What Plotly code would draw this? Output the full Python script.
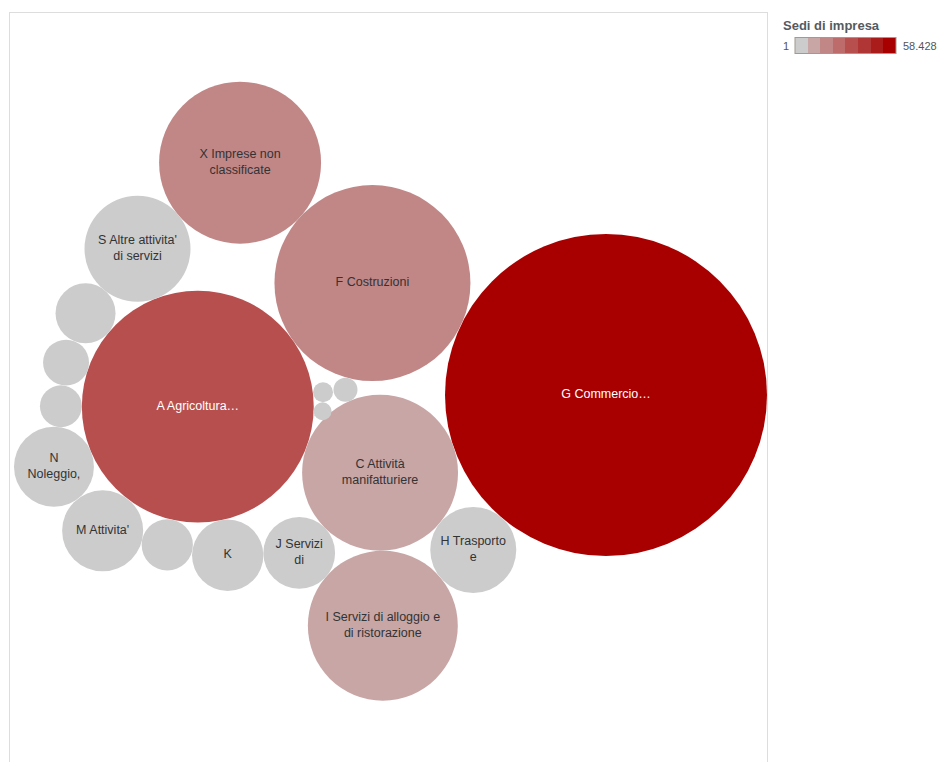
import math
import plotly.graph_objects as go

# ---------------- data ----------------
codes = ["G", "A", "F", "X", "C", "I", "S", "H", "M", "N", "K", "J",
         "L", "Q", "R", "P", "E", "D", "B", "T"]
categories = [
    "G Commercio all'ingrosso e al dettaglio",
    "A Agricoltura, silvicoltura pesca",
    "F Costruzioni",
    "X Imprese non classificate",
    "C Attività manifatturiere",
    "I Servizi di alloggio e di ristorazione",
    "S Altre attivita' di servizi",
    "H Trasporto e magazzinaggio",
    "M Attivita' professionali, scientifiche e tecniche",
    "N Noleggio, agenzie di viaggio, servizi di supporto alle imprese",
    "K Attivita' finanziarie e assicurative",
    "J Servizi di informazione e comunicazione",
    "L Attivita' immobiliari",
    "Q Sanita' e assistenza sociale",
    "R Attivita' artistiche, sportive, di intrattenimento",
    "P Istruzione",
    "E Fornitura di acqua; reti fognarie",
    "D Fornitura di energia elettrica, gas",
    "B Estrazione di minerali",
    "T Attivita' di famiglie e convivenze",
]
bubble_labels = [
    "G Commercio…", "A Agricoltura…", "F Costruzioni",
    "X Imprese non<br>classificate", "C Attività<br>manifatturiere",
    "I Servizi di alloggio e<br>di ristorazione", "S Altre attivita'<br>di servizi",
    "H Trasporto<br>e", "M Attivita'", "N<br>Noleggio,", "K", "J Servizi<br>di",
    "", "", "", "", "", "", "", "",
]
values = [58428, 30300, 21640, 14780, 13700, 12670, 6330, 4170, 3700, 3600,
          2870, 2900, 2030, 1480, 1190, 990, 325, 225, 180, 1]

legend_title = "Sedi di impresa"
legend_min_label = "1"
legend_max_label = "58.428"

# ---------------- styles / layout ----------------
step_colors = ["#cccccc", "#c8a6a6", "#c18787", "#bd6b6b",
               "#b74f4f", "#b03535", "#aa1b1b", "#a80000"]
W, H = 946, 762
ML, MR, MT, MB = 10, 179, 13, 0
MAX_DIAMETER_PX = 322
FONT = "Liberation Sans, Arial, sans-serif"

vmin, vmax = 1, max(values)
sizeref = 2.0 * vmax / (MAX_DIAMETER_PX ** 2)
radius = {c: math.sqrt(v / (2.0 * sizeref)) for c, v in zip(codes, values)}

# packing topology: each bubble is tangent to a parent at an angle, or
# tangent to two earlier bubbles (on the side away from a third one)
placement = [
    ("G", ("origin",)),
    ("F", ("angle", "G", 154.4)),
    ("C", ("angle", "G", 199.0)),
    ("A", ("pair", "F", "C", "G")),
    ("X", ("angle", "F", 137.7)),
    ("S", ("pair", "X", "A", "F")),
    ("H", ("pair", "G", "C", "F")),
    ("I", ("pair", "C", "H", "G")),
    ("J", ("pair", "I", "C", "H")),
    ("K", ("pair", "J", "A", "C")),
    ("Q", ("pair", "K", "A", "J")),
    ("M", ("pair", "Q", "A", "K")),
    ("N", ("pair", "M", "A", "Q")),
    ("P", ("pair", "N", "A", "M")),
    ("R", ("pair", "P", "A", "N")),
    ("L", ("pair", "R", "A", "P")),
    ("E", ("pair", "F", "C", "G")),
    ("D", ("pair", "E", "A", "C")),
    ("B", ("pair", "D", "A", "E")),
    ("T", ("pair", "B", "A", "D")),
]

centers = {}
for code, rule in placement:
    r = radius[code]
    if rule[0] == "origin":
        centers[code] = (0.0, 0.0)
    elif rule[0] == "angle":
        px, py = centers[rule[1]]
        d = radius[rule[1]] + r
        a = math.radians(rule[2])
        centers[code] = (px + d * math.cos(a), py + d * math.sin(a))
    else:
        (ax, ay), (bx, by) = centers[rule[1]], centers[rule[2]]
        da, db = radius[rule[1]] + r, radius[rule[2]] + r
        d = math.hypot(bx - ax, by - ay)
        x = (da * da - db * db + d * d) / (2 * d)
        h = math.sqrt(max(da * da - x * x, 0.0))
        ux, uy = (bx - ax) / d, (by - ay) / d
        basex, basey = ax + x * ux, ay + x * uy
        cands = [(basex - h * uy, basey + h * ux), (basex + h * uy, basey - h * ux)]
        wx, wy = centers[rule[3]]
        centers[code] = max(cands, key=lambda p: math.hypot(p[0] - wx, p[1] - wy))

xs = [centers[c][0] for c in codes]
ys = [centers[c][1] for c in codes]


def step_index(v):
    t = (v - vmin) / (vmax - vmin)
    return min(int(t * len(step_colors)), len(step_colors) - 1)


text_colors = ["#ffffff" if step_index(v) >= 4 else "#333333" for v in values]

colorscale = []
n = len(step_colors)
for i, col in enumerate(step_colors):
    colorscale.append([i / n, col])
    colorscale.append([(i + 1) / n, col])

# G centre sits at pixel (606, 395) of the window
x_range = [ML - 606, (W - MR) - 606]
y_range = [395 - H + MB, 395 - MT]


def px_x(p):
    return (p - ML) / (W - ML - MR)


def px_y(p):
    return (H - MB - p) / (H - MT - MB)


fig = go.Figure()
fig.add_trace(go.Scatter(
    x=xs, y=ys, mode="markers+text",
    text=bubble_labels, textposition="middle center",
    textfont=dict(family=FONT, size=12.5, color=text_colors),
    customdata=categories,
    hovertemplate="%{customdata}<br>Sedi di impresa: %{marker.color:,}<extra></extra>",
    marker=dict(
        size=values, sizemode="area", sizeref=sizeref,
        color=values, cmin=vmin, cmax=vmax, colorscale=colorscale,
        line=dict(width=0), opacity=1,
        colorbar=dict(
            orientation="h", xref="paper", yref="paper",
            x=px_x(845.5), xanchor="center", y=px_y(46), yanchor="middle",
            len=101, lenmode="pixels", thickness=16,
            outlinecolor="#a09a90", outlinewidth=1,
            showticklabels=False, ticks="", xpad=0, ypad=0,
        ),
    ),
    showlegend=False,
))

annotations = [
    dict(text="<b>" + legend_title + "</b>", x=px_x(781), y=px_y(26),
         xanchor="left", yanchor="middle", font=dict(family=FONT, size=13, color="#555a60")),
    dict(text=legend_min_label, x=px_x(791), y=px_y(46),
         xanchor="right", yanchor="middle", font=dict(family=FONT, size=11, color="#555555")),
    dict(text=legend_max_label, x=px_x(901), y=px_y(46),
         xanchor="left", yanchor="middle", font=dict(family=FONT, size=11, color="#555555")),
]
for a in annotations:
    a.update(xref="paper", yref="paper", showarrow=False)

fig.update_layout(
    width=W, height=H,
    margin=dict(l=ML, r=MR, t=MT, b=MB, pad=0, autoexpand=False),
    paper_bgcolor="white", plot_bgcolor="white",
    xaxis=dict(range=x_range, showgrid=False, zeroline=False, showticklabels=False,
               ticks="", side="top", showline=True, linecolor="#dddddd", linewidth=1,
               fixedrange=True),
    yaxis=dict(range=y_range, showgrid=False, zeroline=False, showticklabels=False,
               ticks="", showline=True, mirror=True, linecolor="#dddddd", linewidth=1,
               fixedrange=True),
    annotations=annotations,
    font=dict(family=FONT),
)

fig.write_html("out.html", config={"displayModeBar": False},
               post_script="document.body.style.margin='0';")
